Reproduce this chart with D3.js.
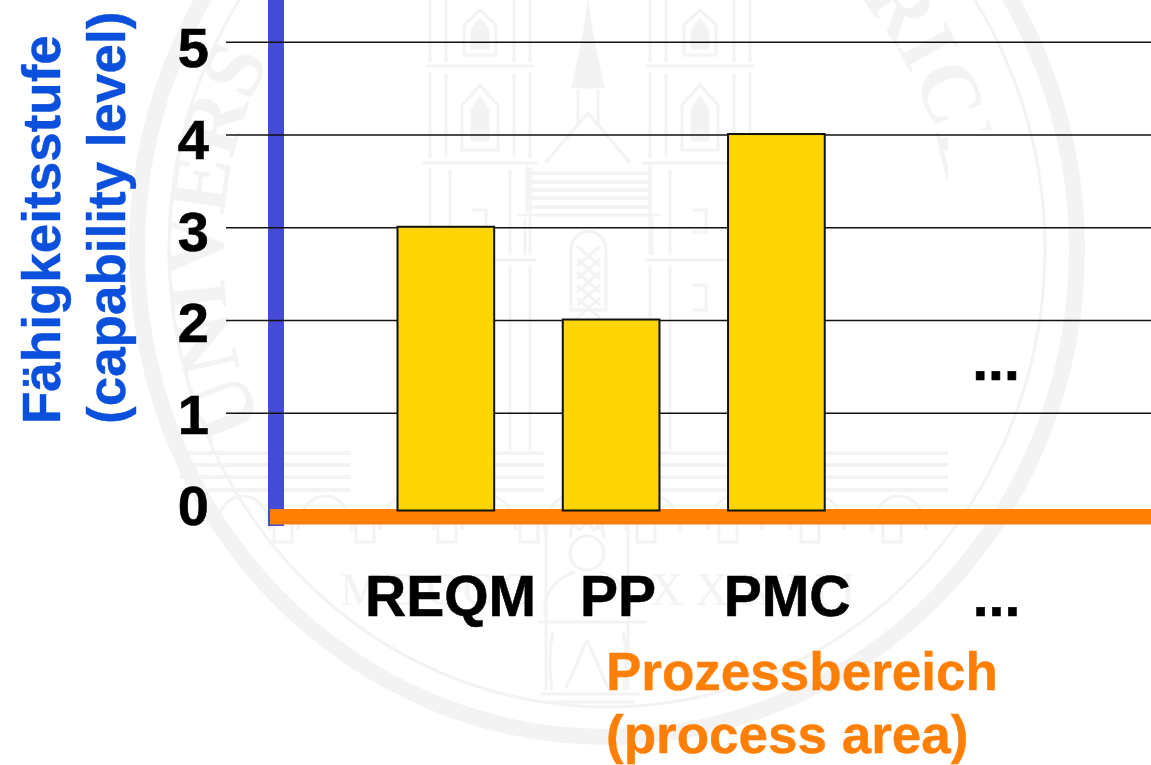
<!DOCTYPE html>
<html>
<head>
<meta charset="utf-8">
<script src="https://cdn.jsdelivr.net/npm/d3@7"></script>
<style>
  html, body { margin: 0; background: #fff; }
  svg { display: block; font-family: "Liberation Sans", Arial, sans-serif; }
</style>
</head>
<body>
<div id="container"></div>
<script>
/* DATA */
const categories = ["REQM", "PP", "PMC", "..."];
const levels = [3, 2, 4, null];
const levelTicks = [0, 1, 2, 3, 4, 5];
const yTitleLines = ["Fähigkeitsstufe", "(capability level)"];
const xTitleLines = ["Prozessbereich", "(process area)"];

/* CONSTANTS */
const width = 1151, height = 765;
const blue = "#444bd6", orange = "#ff7f05", gold = "#ffd505";
const faint = "#f3f3f3";

const svg = d3.select("#container").append("svg")
  .attr("width", width)
  .attr("height", height);

/* WATERMARK (university seal, only a backdrop) */
const defs = svg.append("defs");
defs.append("clipPath").attr("id", "sealClip")
  .append("path").attr("d", "M0,0H1151V130H948V765H0Z");

const seal = svg.append("g").attr("fill", "none").attr("stroke", faint);
const cx = 607, cy = 249;

seal.append("ellipse").attr("cx", cx).attr("cy", cy).attr("rx", 470).attr("ry", 488).attr("stroke-width", 16);
seal.append("ellipse").attr("cx", cx).attr("cy", cy).attr("rx", 438).attr("ry", 458).attr("stroke-width", 3);

function ringDef(id, rx, ry) {
  defs.append("path")
    .attr("id", id)
    .attr("d", `M${cx},${cy + ry} A${rx},${ry} 0 0 1 ${cx},${cy - ry} A${rx},${ry} 0 0 1 ${cx},${cy + ry}`);
}
ringDef("ringLeft", 384, 395);
ringDef("ringRight", 345, 370);

function rimText(str, ring, offset, clip) {
  svg.append("text")
    .attr("fill", faint)
    .attr("clip-path", clip ? "url(#sealClip)" : null)
    .attr("font-family", "Liberation Serif")
    .attr("font-weight", "bold")
    .attr("font-size", 84)
    .append("textPath")
    .attr("href", "#" + ring)
    .attr("startOffset", offset)
    .text(str);
}
rimText("UNIVERS", "ringLeft", 430, false);
rimText("RICE", "ringRight", 1411, true);

svg.append("text").attr("x", 340).attr("y", 605).attr("fill", faint)
  .attr("font-family", "Liberation Serif").attr("font-size", 46).attr("letter-spacing", 6)
  .text("MDCCC");
svg.append("text").attr("x", 650).attr("y", 605).attr("fill", faint)
  .attr("font-family", "Liberation Serif").attr("font-size", 46).attr("letter-spacing", 12)
  .text("XXXIII");

// towers, one helper for both
function tower(x0) {
  const t = seal.append("g").attr("transform", `translate(${x0},0)`).attr("stroke-width", 3);
  t.append("path").attr("d", "M0,-5V62M0,72V158M0,168V255M0,265V450M100,-5V62M100,72V158M100,168V255M100,265V450");
  t.append("path").attr("d", "M16,-5V62M84,-5V62M16,74V156M84,74V156M20,170V255M80,170V255M20,265V450M80,265V450");
  t.append("path").attr("d", "M-4,66H104M-8,163H108M-6,260H106");
  t.append("path").attr("d", "M34,55V25L50,10L66,25V55Z");
  t.append("path").attr("d", "M42,48V30L50,20L58,30V48Z").attr("fill", faint);
  t.append("path").attr("d", "M32,150V105L50,85L68,105V150Z");
  t.append("path").attr("d", "M42,140V110L50,98L58,110V140Z").attr("fill", faint);
  t.append("path").attr("d", "M42,210H56V232H42M42,285H56V310H42");
}
tower(430);
tower(650);

// spire and roof between the towers
seal.append("path").attr("fill", faint).attr("d", "M588,0L592,30L604,88H572L584,30Z");
seal.append("path").attr("stroke-width", 3).attr("d", "M578,90V125M598,90V125M545,163L588,113L630,163");
seal.append("path").attr("stroke-width", 4).attr("d", "M527,173H650M527,182H650M527,190H650M527,198H650M527,207H650");
seal.append("path").attr("stroke-width", 3).attr("d", "M527,165V212M650,165V212M517,215H660M525,218V255M652,218V255");

// lattice window above the PP bar
seal.append("path").attr("stroke-width", 3).attr("d", "M571,310V250A17,18 0 0 1 606,250V310Z");
seal.append("path").attr("stroke-width", 3)
  .attr("d", d3.range(0, 5).map(i => {
    const y = 246 + i * 13;
    return `M577,${y}L600,${y + 20}M600,${y}L577,${y + 20}`;
  }).join(""));

// steps and arcade under the church
seal.append("path").attr("stroke-width", 4)
  .attr("d", [453, 465, 477, 490].map(y => `M180,${y}H351M400,${y}H544M600,${y}H948`).join(""));
d3.range(9).forEach(i => {
  const x = 243 + 82 * i;
  seal.append("path").attr("stroke-width", 3).attr("d", `M${x - 27},530A27,34 0 0 1 ${x + 27},530`);
});
[283, 365, 447, 529, 646, 728, 810, 892].forEach(x => {
  seal.append("path").attr("stroke-width", 3).attr("d", `M${x - 9},524V542H${x + 9}V524`);
});

// seated figure at the bottom of the seal
seal.append("circle").attr("cx", 587).attr("cy", 553).attr("r", 17).attr("stroke-width", 3);
seal.append("path").attr("stroke-width", 3)
  .attr("d", "M570,538L572,524L580,530L587,522L594,530L602,524L604,538"
    + "M575,572C555,578 543,595 545,612M600,572C620,578 632,595 630,612"
    + "M538,622H647M553,632C549,650 549,670 552,690M623,632C627,650 627,670 624,690"
    + "M587,640L566,688M587,640L608,688M540,694H640M545,702H635"
    + "M546,520V690M628,520V690");

/* SCALES */
const yScale = d3.scaleLinear()
  .domain([0, 5])
  .range([505.5, 41.8]);

// the level numbers sit a little off the grid lines in the original
const yLabelScale = d3.scaleLinear()
  .domain([0, 5])
  .range([507, 49]);

const xScale = d3.scaleBand()
  .domain(categories)
  .range([397.5, 990])
  .paddingInner(0.415);

const xLabelScale = d3.scaleOrdinal()
  .domain(categories)
  .range([450, 617.5, 786.5, 996]);

/* AXES LINES AND GRID */
svg.append("rect").attr("x", 268).attr("y", -2).attr("width", 16).attr("height", 528).attr("fill", blue);

svg.append("g")
  .attr("transform", `translate(${width},0)`)
  .call(d3.axisLeft(yScale).tickValues(levelTicks.slice(1)).tickSize(width - 226).tickFormat(""))
  .call(g => g.select(".domain").remove())
  .selectAll("line")
  .attr("stroke", "#111")
  .attr("stroke-width", 1.6);

svg.append("rect").attr("x", 270).attr("y", 509).attr("width", width - 270).attr("height", 15.5).attr("fill", orange);

/* BARS */
svg.selectAll("rect.bar")
  .data(categories.map((c, i) => ({ category: c, level: levels[i] })).filter(d => d.level !== null))
  .join("rect")
  .attr("class", "bar")
  .attr("x", d => xScale(d.category))
  .attr("y", d => yScale(d.level) - 0.5)
  .attr("width", xScale.bandwidth())
  .attr("height", d => yScale(0) - yScale(d.level) + 5.5)
  .attr("fill", gold)
  .attr("stroke", "#111")
  .attr("stroke-width", 2);

/* LABELS */
svg.append("g")
  .attr("transform", "translate(209,0)")
  .call(d3.axisLeft(yLabelScale).tickValues(levelTicks).tickSize(0).tickPadding(0).tickFormat(d3.format("d")))
  .call(g => g.select(".domain").remove())
  .selectAll("text")
  .attr("font-family", "Liberation Sans")
  .attr("font-size", 56)
  .attr("font-weight", "bold")
  .attr("stroke", "#000")
  .attr("stroke-width", 0.6)
  .attr("fill", "#000");

svg.append("g")
  .attr("transform", "translate(0,616)")
  .call(d3.axisBottom(xLabelScale).tickSize(0).tickPadding(0))
  .call(g => g.select(".domain").remove())
  .selectAll("text")
  .attr("dy", 0)
  .attr("y", 0)
  .attr("font-family", "Liberation Sans")
  .attr("font-size", 57)
  .attr("font-weight", "bold")
  .attr("stroke", "#000")
  .attr("stroke-width", 0.6)
  .attr("fill", "#000");

// the "..." standing in the empty column
svg.append("text")
  .attr("x", xLabelScale("..."))
  .attr("y", 380)
  .attr("text-anchor", "middle")
  .attr("font-size", 57)
  .attr("font-weight", "bold")
  .attr("stroke", "#000")
  .attr("stroke-width", 0.6)
  .text("...");

/* TITLES */
svg.selectAll("text.xTitle")
  .data(xTitleLines)
  .join("text")
  .attr("class", "xTitle")
  .attr("x", 606)
  .attr("y", (d, i) => 690 + i * 63)
  .attr("font-size", 53)
  .attr("font-weight", "bold")
  .attr("fill", orange)
  .attr("stroke", orange)
  .attr("stroke-width", 0.4)
  .text(d => d);

svg.selectAll("text.yTitle")
  .data(yTitleLines)
  .join("text")
  .attr("class", "yTitle")
  .attr("transform", (d, i) => `translate(${60 + i * 65},424) rotate(-90)`)
  .attr("font-size", 53)
  .attr("font-weight", "bold")
  .attr("fill", "#0a50dc")
  .attr("stroke", "#0a50dc")
  .attr("stroke-width", 0.4)
  .text(d => d);
</script>
</body>
</html>
